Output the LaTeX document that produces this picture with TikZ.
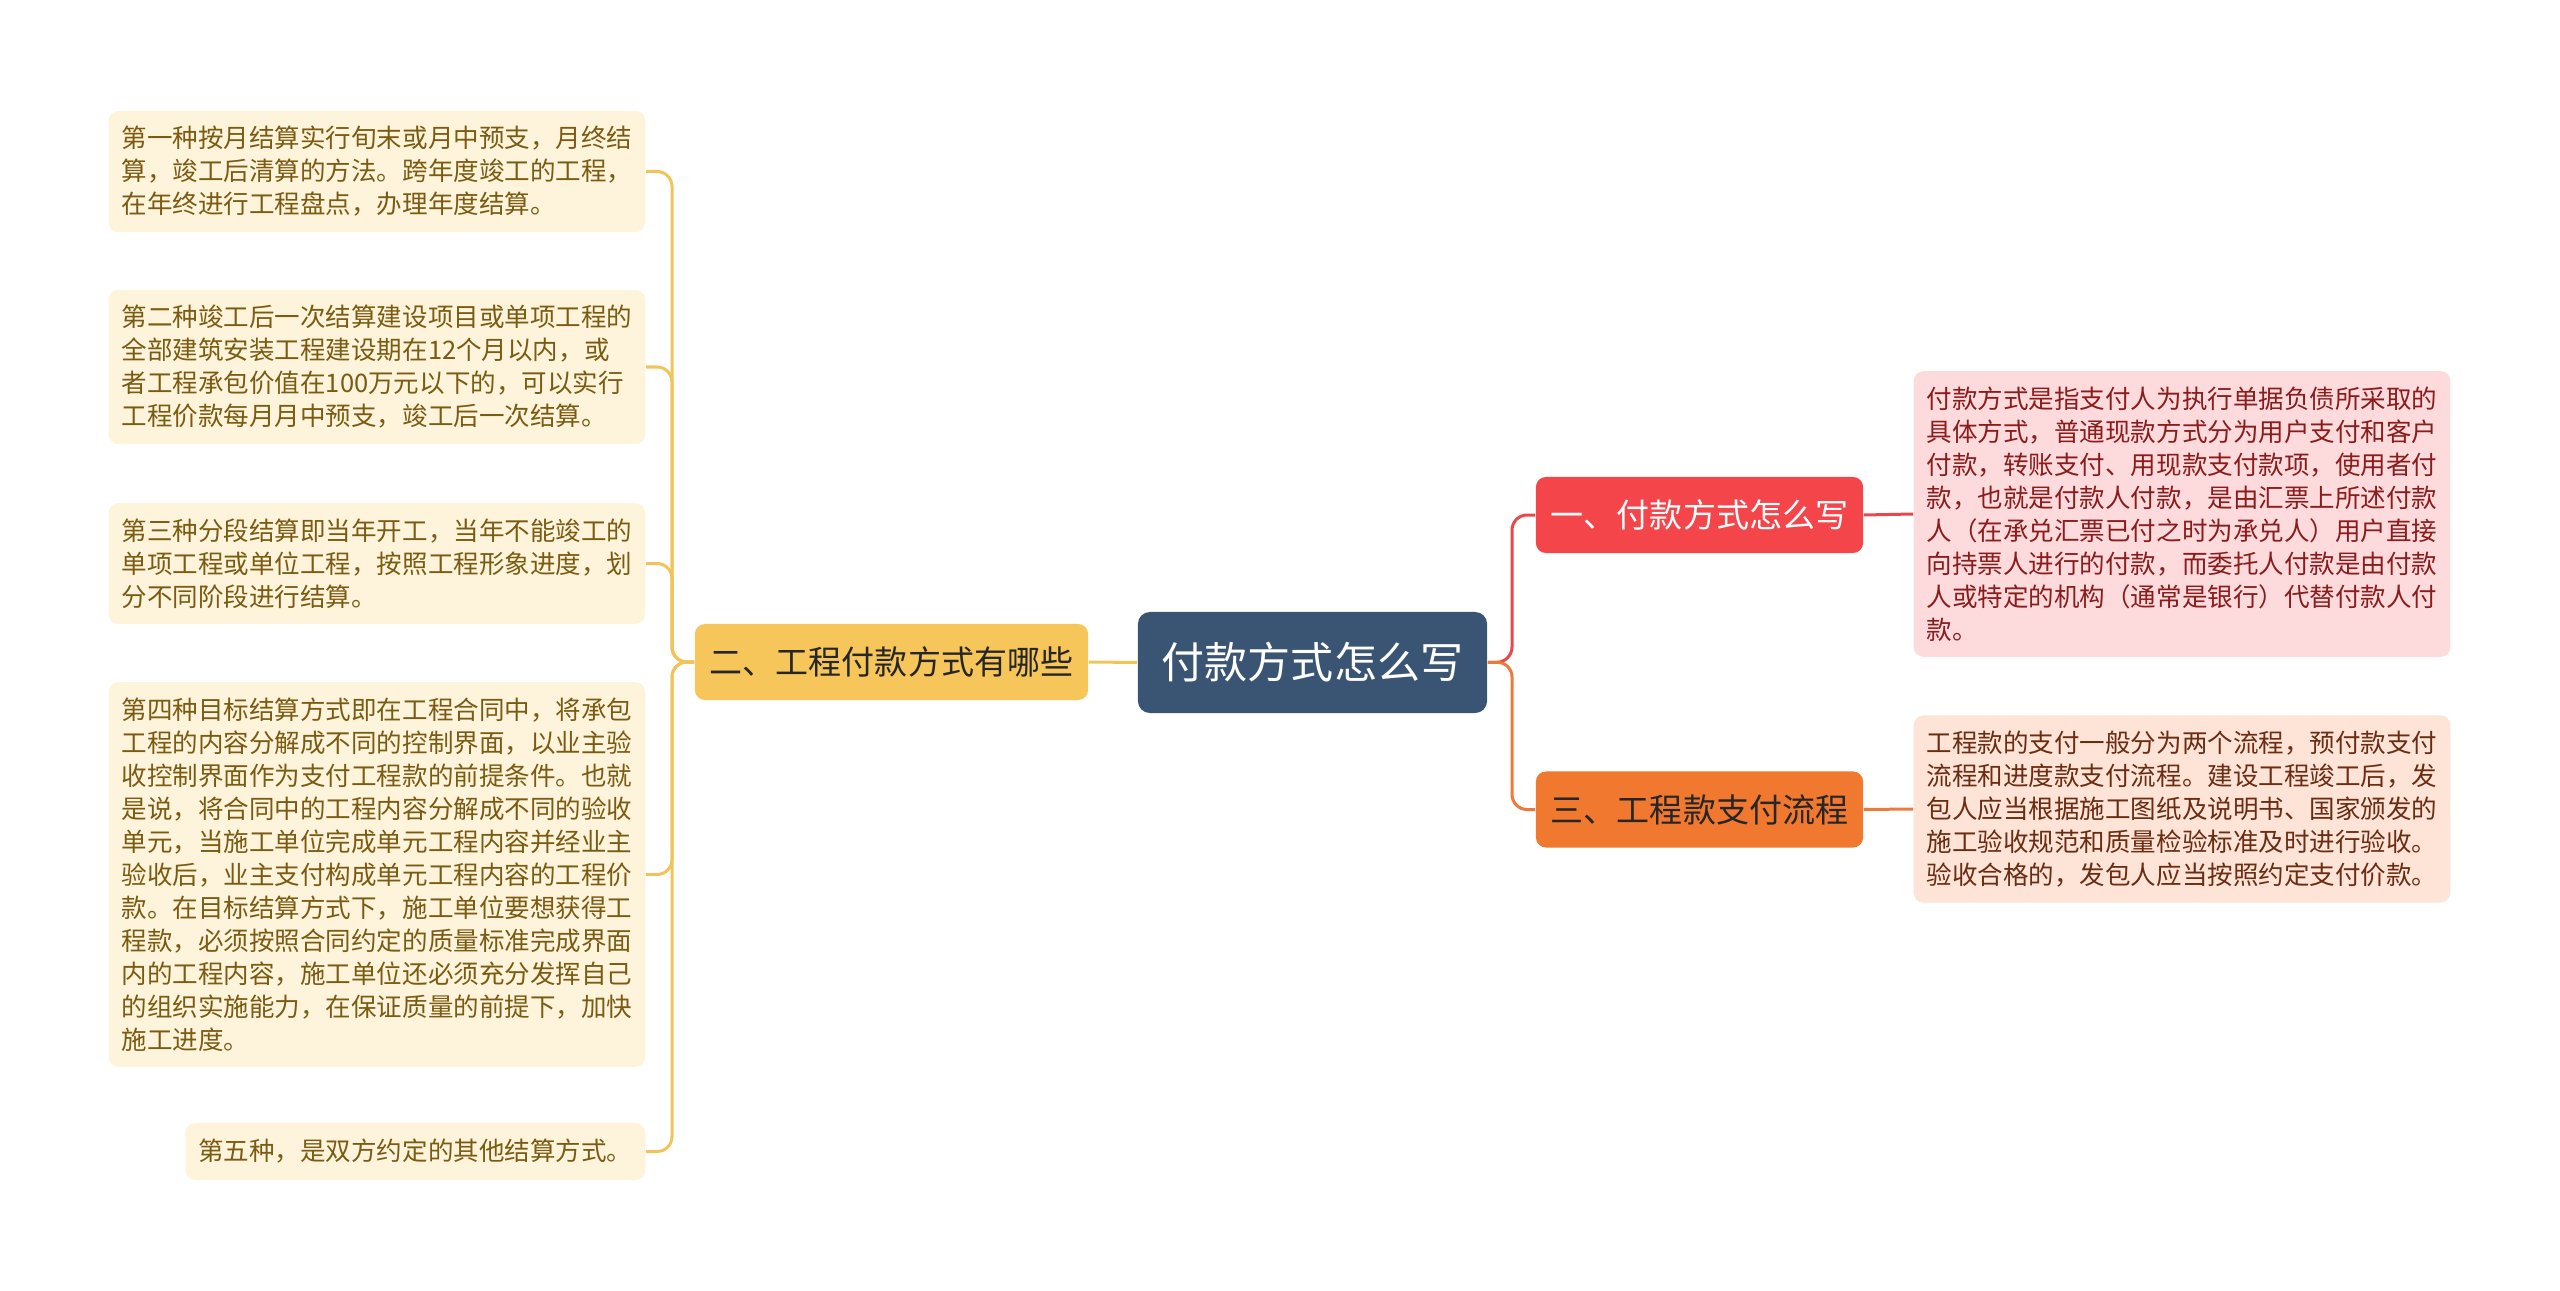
\documentclass[tikz,border=0pt]{standalone}
\usepackage{fontspec}
\setmainfont{Noto Sans CJK SC}
\definecolor{rootfill}{HTML}{3A5573}
\definecolor{yfill}{HTML}{F7C65A}
\definecolor{rfill}{HTML}{F4454B}
\definecolor{ofill}{HTML}{F0782F}
\definecolor{yleaf}{HTML}{FEF4DC}
\definecolor{yleaftext}{HTML}{7B5B12}
\definecolor{rleaf}{HTML}{FDDBDD}
\definecolor{rleaftext}{HTML}{8A1C1C}
\definecolor{oleaf}{HTML}{FDE4D6}
\definecolor{oleaftext}{HTML}{6A2C12}
\definecolor{ylinecol}{HTML}{F0C45A}
\definecolor{rlinecol}{HTML}{E8474C}
\definecolor{olinecol}{HTML}{EC7A3A}
\tikzset{
  rootbox/.style={fill=rootfill,text=white,rounded corners=0.12cm,minimum width=3.49cm,
    minimum height=1.01cm,inner sep=0pt,font=\fontsize{12.24}{14}\selectfont},
  branchbox/.style={rounded corners=0.1cm,minimum height=0.76cm,inner sep=0pt,
    font=\fontsize{9.39}{11}\selectfont},
  leafbox/.style={rounded corners=0.1cm,align=left,inner xsep=0.13cm,inner ysep=0.155cm,
    minimum height=0.57cm,font=\fontsize{7.26}{9.39}\selectfont},
  lleaf/.style={leafbox,anchor=east,fill=yleaf,text=yleaftext},
  link/.style={line width=0.03cm,rounded corners=0.15cm}
}
\begin{document}
\begin{tikzpicture}[x=0.01cm,y=-0.01cm]
      \useasboundingbox (0,0) rectangle (2560,1291);
      \node[rootbox] (root) at (1312.5,662.5) {付款方式怎么写};
      \node[branchbox,fill=yfill,text=black!85,minimum width=3.93cm] (b2) at (891.5,662) {二、工程付款方式有哪些};
      \node[branchbox,fill=rfill,text=white,minimum width=3.27cm] (b1) at (1699.5,515) {一、付款方式怎么写};
      \node[branchbox,fill=ofill,text=black!85,minimum width=3.27cm] (b3) at (1699.5,809.5) {三、工程款支付流程};
      % left leaves
      \node[lleaf] (l1) at (646,171.5) {第一种按月结算实行旬末或月中预支，月终结\\
        算，竣工后清算的方法。跨年度竣工的工程，\\
        在年终进行工程盘点，办理年度结算。};
      \node[lleaf] (l2) at (646,367) {第二种竣工后一次结算建设项目或单项工程的\\
        全部建筑安装工程建设期在12个月以内，或\\
        者工程承包价值在100万元以下的，可以实行\\
        工程价款每月月中预支，竣工后一次结算。};
      \node[lleaf] (l3) at (646,563.5) {第三种分段结算即当年开工，当年不能竣工的\\
        单项工程或单位工程，按照工程形象进度，划\\
        分不同阶段进行结算。};
      \node[lleaf] (l4) at (646,874.5) {第四种目标结算方式即在工程合同中，将承包\\
        工程的内容分解成不同的控制界面，以业主验\\
        收控制界面作为支付工程款的前提条件。也就\\
        是说，将合同中的工程内容分解成不同的验收\\
        单元，当施工单位完成单元工程内容并经业主\\
        验收后，业主支付构成单元工程内容的工程价\\
        款。在目标结算方式下，施工单位要想获得工\\
        程款，必须按照合同约定的质量标准完成界面\\
        内的工程内容，施工单位还必须充分发挥自己\\
        的组织实施能力，在保证质量的前提下，加快\\
        施工进度。};
      \node[lleaf] (l5) at (646,1151.5) {第五种，是双方约定的其他结算方式。};
      % right leaves
      \node[leafbox,anchor=west,fill=rleaf,text=rleaftext] (la) at (1913,514) {付款方式是指支付人为执行单据负债所采取的\\
        具体方式，普通现款方式分为用户支付和客户\\
        付款，转账支付、用现款支付款项，使用者付\\
        款，也就是付款人付款，是由汇票上所述付款\\
        人（在承兑汇票已付之时为承兑人）用户直接\\
        向持票人进行的付款，而委托人付款是由付款\\
        人或特定的机构（通常是银行）代替付款人付\\
        款。};
      \node[leafbox,anchor=west,fill=oleaf,text=oleaftext] (lb) at (1913,809) {工程款的支付一般分为两个流程，预付款支付\\
        流程和进度款支付流程。建设工程竣工后，发\\
        包人应当根据施工图纸及说明书、国家颁发的\\
        施工验收规范和质量检验标准及时进行验收。\\
        验收合格的，发包人应当按照约定支付价款。};
      \coordinate (lbus) at (672,662);
      \coordinate (rbus) at (1512,662);
      \draw[link,ylinecol] (root.west) -- (b2.east);
      \foreach \n in {l1,l2,l3,l4,l5}
        \draw[link,ylinecol] (b2.west) -- (lbus) |- (\n.east);
      \draw[link,rlinecol] (root.east) -- (rbus) |- (b1.west);
      \draw[link,olinecol] (root.east) -- (rbus) |- (b3.west);
      \draw[link,rlinecol] (b1.east) -- (la.west);
      \draw[link,olinecol] (b3.east) -- (lb.west);
    \end{tikzpicture}
\end{document}
